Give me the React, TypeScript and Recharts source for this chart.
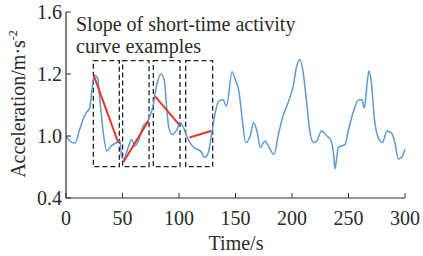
import React from "react";
import {
  LineChart, Line, XAxis, YAxis, ReferenceArea, ReferenceLine,
} from "recharts";

/* 가속도 곡선 (시간 s, 가속도 m·s^-2) */
const times = [
  0, 3.5, 8, 12, 17, 19, 21, 23, 25, 28, 30, 33, 36, 40, 45, 48, 49, 51, 55, 58,
  61, 64, 68, 73, 77, 80, 84, 87, 89, 91, 94, 98, 101, 104, 108, 113, 119, 123, 126, 129,
  132, 135, 139, 142, 147, 150, 153, 156, 159, 163, 166, 169, 172, 176, 179, 184, 188, 192, 197, 201,
  204, 207, 210, 213, 216, 219, 222, 226, 231, 234, 237, 238, 241, 244, 247, 250, 254, 259, 262, 264,
  266, 268, 270, 273, 277, 280, 284, 288, 291, 294, 297, 300,
];
const accel = [
  0.8, 0.768, 0.754, 0.84, 0.94, 0.96, 0.98, 1.10, 1.194, 1.172, 1.034, 0.82, 0.704, 0.736, 0.758, 0.768, 0.672, 0.652, 0.726, 0.778,
  0.736, 0.768, 0.86, 0.906, 0.992, 1.12, 1.2, 1.16, 0.992, 0.854, 0.81, 0.84, 0.886, 0.854, 0.778, 0.726, 0.704, 0.662, 0.694, 0.82,
  0.948, 1.024, 1.034, 0.992, 1.214, 1.16, 1.088, 0.906, 0.758, 0.8, 0.886, 0.832, 0.726, 0.768, 0.736, 0.682, 0.81, 0.928, 1.024, 1.12,
  1.246, 1.294, 1.204, 1.012, 0.82, 0.758, 0.768, 0.832, 0.8, 0.778, 0.672, 0.588, 0.726, 0.736, 0.746, 0.84, 0.948, 1.034, 1.034, 0.98,
  1.10, 1.22, 1.16, 0.906, 0.778, 0.758, 0.832, 0.82, 0.758, 0.652, 0.662, 0.714,
];

/* 기울기 예시 구간 (점선 박스) */
const boxStarts = [24.2, 50.1, 77.3, 105.9];
const boxEnds = [47.2, 73.5, 100.9, 129.8];
const boxTop = 1.286;
const boxBottom = 0.602;

/* 기울기 선분 (빨간 선) */
const slopeT0 = [24.7, 50.7, 78.8, 109.2];
const slopeV0 = [1.188, 0.63, 1.056, 0.79];
const slopeT1 = [46.2, 72.8, 100.1, 128.4];
const slopeV1 = [0.758, 0.896, 0.874, 0.832];

const xTicks = [0, 50, 100, 150, 200, 250, 300];
const yTicks = [0.4, 0.8, 1.2, 1.6];
const yTickLabels = ["0.4", "1.0", "1.2", "1.6"]; // 원본 그림의 눈금 표기 그대로

const data = times.map((t, i) => ({ t, a: accel[i] }));

const FONT = "Times New Roman";
const AXIS = "#333333";
const TXT = "#2a2a2a";
const PLOT_LEFT = 66;
const PLOT_BOTTOM = 198;

const YTick = (props: any) => {
  const { y, payload, index } = props;
  return (
    <g>
      <line x1={PLOT_LEFT} x2={PLOT_LEFT + 5} y1={y} y2={y} stroke={AXIS} strokeWidth={1} />
      <text x={PLOT_LEFT - 4} y={y} dy={6.5} textAnchor="end" fontSize={20} fill={TXT}
        fontFamily={FONT}>
        {yTickLabels[index] ?? String(payload.value)}
      </text>
    </g>
  );
};

const XTick = (props: any) => {
  const { x, payload } = props;
  return (
    <g>
      <line x1={x} x2={x} y1={PLOT_BOTTOM} y2={PLOT_BOTTOM - 5} stroke={AXIS} strokeWidth={1} />
      <text x={x} y={PLOT_BOTTOM + 27} textAnchor="middle" fontSize={20} fill={TXT}
        fontFamily={FONT}>
        {payload.value}
      </text>
    </g>
  );
};

const YLabel = () => (
  <text x={25} y={104} transform="rotate(-90, 25, 104)" textAnchor="middle"
    fontSize={20} fill={TXT} fontFamily={FONT}>
    Acceleration/m·s<tspan dy={-8} fontSize={12}>-2</tspan>
  </text>
);

const XLabel = () => (
  <text x={236} y={250} textAnchor="middle" fontSize={20} fill={TXT} fontFamily={FONT}>
    Time/s
  </text>
);

export default function App() {
  return (
    <div style={{ position: "absolute", left: 0, top: 0, width: 423, height: 256, background: "#fff", fontFamily: FONT }}>
      <LineChart width={423} height={256} data={data}
        margin={{ top: 12, right: 18, bottom: 28, left: 0 }}>
        <XAxis dataKey="t" type="number" domain={[0, 300]} ticks={xTicks}
          tick={<XTick />} tickLine={false} height={30}
          axisLine={{ stroke: AXIS, strokeWidth: 1.2 }} label={<XLabel />} />
        <XAxis xAxisId="top" orientation="top" dataKey="t" type="number" domain={[0, 300]}
          tick={false} tickLine={false} height={0} axisLine={{ stroke: AXIS, strokeWidth: 1.2 }} />
        <YAxis type="number" domain={[0.4, 1.6]} ticks={yTicks} tick={<YTick />} tickLine={false}
          width={66} axisLine={{ stroke: AXIS, strokeWidth: 1.2 }} label={<YLabel />} />
        <YAxis yAxisId="right" orientation="right" type="number" domain={[0.4, 1.6]}
          tick={false} tickLine={false} width={0} axisLine={{ stroke: AXIS, strokeWidth: 1.2 }} />
        {boxStarts.map((s, i) => (
          <ReferenceArea key={"b" + i} x1={s} x2={boxEnds[i]} y1={boxBottom} y2={boxTop}
            fill="none" stroke="#222" strokeWidth={1.3} strokeDasharray="5 3" ifOverflow="visible" />
        ))}
        <Line type="monotone" dataKey="a" stroke="#5b9bd5" strokeWidth={1.5} dot={false}
          isAnimationActive={false} />
        {slopeT0.map((t, i) => (
          <ReferenceLine key={"s" + i}
            segment={[{ x: t, y: slopeV0[i] }, { x: slopeT1[i], y: slopeV1[i] }]}
            stroke="#e8352a" strokeWidth={2} ifOverflow="visible" />
        ))}
      </LineChart>
      <div style={{
        position: "absolute", left: 76, top: 13, fontFamily: FONT, fontSize: 20,
        lineHeight: "22px", color: TXT, whiteSpace: "pre",
      }}>
        {"Slope of short-time activity\ncurve examples"}
      </div>
    </div>
  );
}
